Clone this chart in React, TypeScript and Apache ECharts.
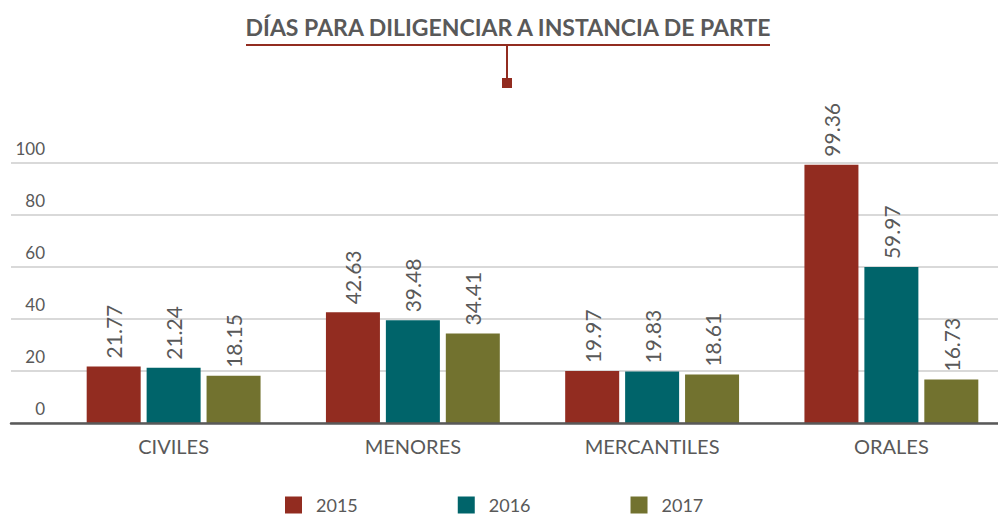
import React, { useEffect, useRef } from "react";
import * as echarts from "echarts";

const TITLE = "DÍAS PARA DILIGENCIAR A INSTANCIA DE PARTE";
const categories = ["CIVILES", "MENORES", "MERCANTILES", "ORALES"];
const years = ["2015", "2016", "2017"];
const values2015 = [21.77, 42.63, 19.97, 99.36];
const values2016 = [21.24, 39.48, 19.83, 59.97];
const values2017 = [18.15, 34.41, 18.61, 16.73];
const seriesValues = [values2015, values2016, values2017];
const colors = ["#922c20", "#00646a", "#72722f"];
const Y_MIN = 0;
const Y_MAX = 100;
const Y_INTERVAL = 20;

const FONT = "Lato";
const TEXT = "#595959";
const CANVAS_W = 1020;

export default function App() {
  const ref = useRef<HTMLDivElement>(null);
  useEffect(() => {
    document.body.style.margin = "0";
    if (!ref.current) return;
    const chart = echarts.init(ref.current, null, { renderer: "svg" });
    const option: any = {
      animation: false,
      backgroundColor: "#ffffff",
      textStyle: { fontFamily: FONT },
      grid: [
        { left: 11, right: CANVAS_W - 998, top: 163, height: 260 },
        { left: 54, width: 957, top: 163, height: 260 },
      ],
      xAxis: [
        {
          gridIndex: 0,
          type: "category",
          data: [""],
          z: 5,
          axisLine: { show: true, lineStyle: { color: "#595959", width: 2.5 } },
          axisTick: { show: false },
          axisLabel: { show: false },
          splitLine: { show: false },
        },
        {
          gridIndex: 1,
          type: "category",
          data: categories,
          axisLine: { show: false },
          axisTick: { show: false },
          axisLabel: { color: TEXT, fontSize: 20, fontFamily: FONT, margin: 13 },
        },
      ],
      yAxis: [
        {
          gridIndex: 0,
          type: "value",
          min: Y_MIN,
          max: Y_MAX,
          interval: Y_INTERVAL,
          axisLine: { show: false },
          axisTick: { show: false },
          splitLine: { show: true, lineStyle: { color: "#d9d9d9", width: 2 } },
          axisLabel: {
            color: TEXT,
            fontSize: 17,
            fontFamily: FONT,
            margin: -34,
            verticalAlign: "bottom",
            lineHeight: 30,
          },
        },
        {
          gridIndex: 1,
          type: "value",
          min: Y_MIN,
          max: Y_MAX,
          interval: Y_INTERVAL,
          show: false,
          splitLine: { show: false },
        },
      ],
      legend: {
        data: years,
        left: 285,
        top: 496,
        padding: 0,
        icon: "rect",
        itemWidth: 17,
        itemHeight: 17,
        itemGap: 100,
        textStyle: { color: TEXT, fontSize: 18, fontFamily: FONT, padding: [0, 0, 0, 9] },
      },
      graphic: [
        {
          type: "text",
          x: 508,
          y: 27,
          style: {
            text: TITLE,
            textAlign: "center",
            textVerticalAlign: "middle",
            font: `bold 23px ${FONT}`,
            fill: TEXT,
          },
        },
        {
          type: "line",
          shape: { x1: 246, y1: 45, x2: 770, y2: 45 },
          style: { stroke: "#922c20", lineWidth: 2 },
        },
        {
          type: "line",
          shape: { x1: 507, y1: 45, x2: 507, y2: 80 },
          style: { stroke: "#922c20", lineWidth: 2 },
        },
        {
          type: "rect",
          shape: { x: 502, y: 78, width: 10, height: 10 },
          style: { fill: "#922c20" },
        },
      ],
      series: years.map((y, i) => ({
        name: y,
        type: "bar",
        xAxisIndex: 1,
        yAxisIndex: 1,
        data: seriesValues[i],
        barWidth: 54,
        barGap: "11%",
        itemStyle: { color: colors[i] },
        label: {
          show: true,
          position: "top",
          rotate: 90,
          align: "left",
          verticalAlign: "middle",
          distance: 8,
          color: TEXT,
          fontSize: 21,
          fontFamily: FONT,
          formatter: (p: any) => p.value.toFixed(2),
        },
      })),
    };
    chart.setOption(option);
    return () => chart.dispose();
  }, []);
  return (
    <div style={{ width: 998, height: 516, overflow: "hidden", position: "relative" }}>
      <div ref={ref} style={{ width: CANVAS_W, height: 516 }} />
    </div>
  );
}
